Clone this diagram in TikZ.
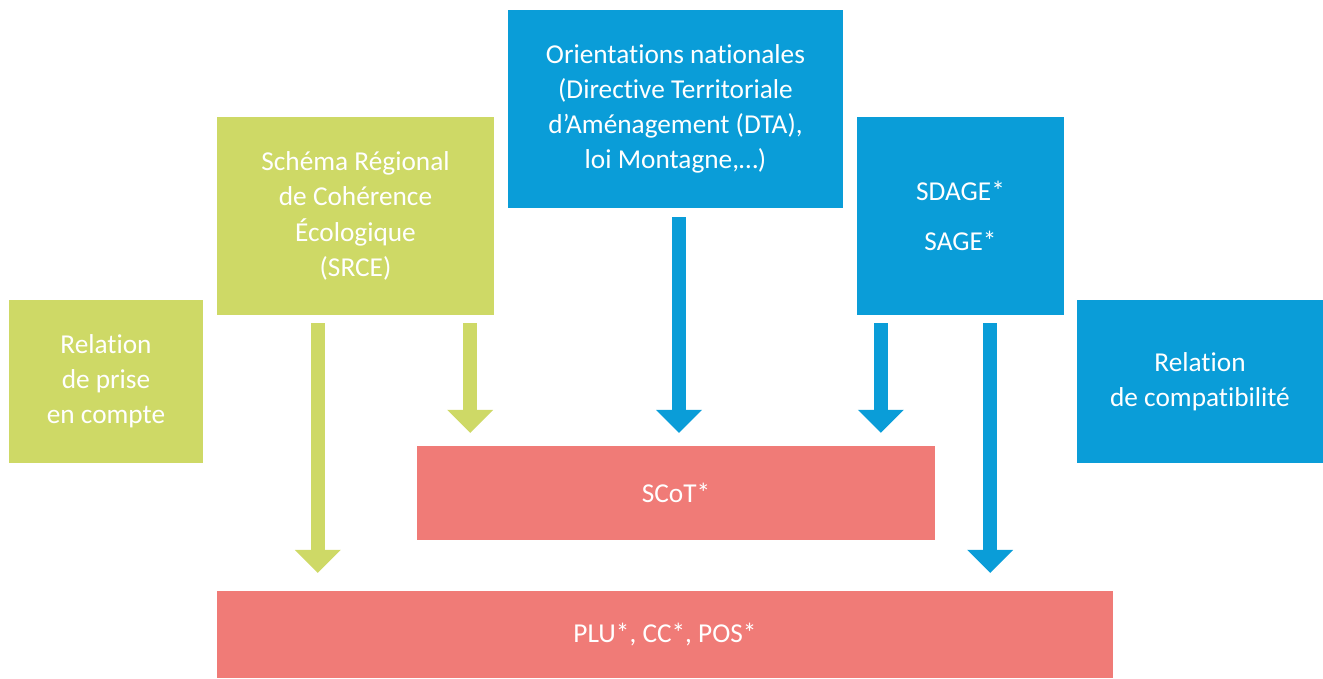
\documentclass[tikz,border=0pt]{standalone}
\usepackage{fontspec}
\setmainfont{Carlito}[Ligatures=NoCommon]
\usepackage{xcolor}
\usepackage{tikz}
\usetikzlibrary{arrows.meta,positioning}
\definecolor{sdGreen}{HTML}{CED966}
\definecolor{sdBlue}{HTML}{0A9DD8}
\definecolor{sdRed}{HTML}{F07B77}
\tikzset{
  greenblock/.style={rectangle,fill=sdGreen,inner sep=0pt,align=center,text=white,
    font=\fontsize{27.3}{35.2}\selectfont},
  blueblock/.style={rectangle,fill=sdBlue,inner sep=0pt,align=center,text=white,
    font=\fontsize{27.3}{35.2}\selectfont},
  redblock/.style={rectangle,fill=sdRed,inner sep=0pt,align=center,text=white,
    font=\fontsize{27.3}{35.2}\selectfont},
  garrow/.style={line width=14pt,draw=sdGreen,-{Triangle[width=46pt,length=23pt,line width=0pt]}},
  barrow/.style={line width=14pt,draw=sdBlue,-{Triangle[width=46pt,length=23pt,line width=0pt]}}
}

\begin{document}
\begin{tikzpicture}[x=1pt,y=-1pt]
  \useasboundingbox (0,0) rectangle (1323,678);
  \node[greenblock, minimum width=194pt, minimum height=163pt] (prise) at (106,381.5) {Relation\\de prise\\en compte};
  \node[blueblock, minimum width=246pt, minimum height=163pt] (compat) at (1200,381.5) {Relation\\de compatibilit\'e};
  \node[greenblock, minimum width=277pt, minimum height=198pt] (srce) at (355.5,216) {Sch\'ema R\'egional\\de Coh\'erence\\\'Ecologique\\(SRCE)};
  \node[blueblock, minimum width=335pt, minimum height=198pt] (orient) at (675.5,109) {Orientations nationales\\(Directive Territoriale\\d’Am\'enagement (DTA),\\loi Montagne,…)};
  \node[blueblock, minimum width=207pt, minimum height=198pt] (sdage) at (960.5,216) {SDAGE*\\[15pt]SAGE*};
  \node[redblock, minimum width=518pt, minimum height=94pt] (scot) at (676,493) {SCoT*};
  \node[redblock, minimum width=896pt, minimum height=87pt] (plu) at (665,634.5) {PLU*, CC*, POS*};
  % prise en compte
  \draw[garrow, shorten >=18pt] ([xshift=101pt,yshift=-8pt]srce.south west) coordinate (g1) -- (g1 |- plu.north);
  \draw[garrow, shorten >=13pt] ([xshift=-24pt,yshift=-8pt]srce.south east) coordinate (g2) -- (g2 |- scot.north);
  % compatibilite
  \draw[barrow, shorten >=13pt] ([xshift=3.5pt,yshift=-9pt]orient.south) coordinate (b1) -- (b1 |- scot.north);
  \draw[barrow, shorten >=13pt] ([xshift=24pt,yshift=-8pt]sdage.south west) coordinate (b2) -- (b2 |- scot.north);
  \draw[barrow, shorten >=18pt] ([xshift=-74pt,yshift=-8pt]sdage.south east) coordinate (b3) -- (b3 |- plu.north);
\end{tikzpicture}
\end{document}
